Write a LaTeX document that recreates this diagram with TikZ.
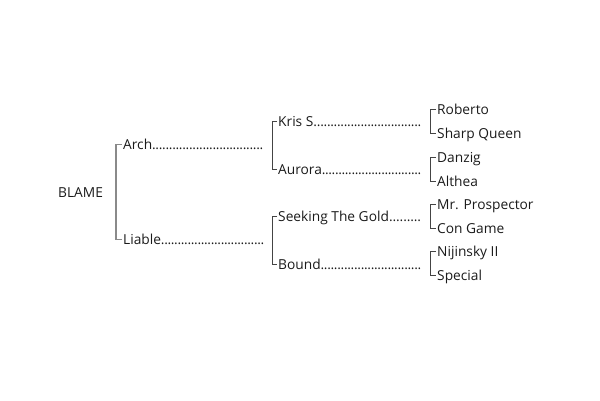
\documentclass[tikz,border=0pt]{standalone}
\usepackage{fontspec}
\setmainfont{Open Sans}
\definecolor{txt}{HTML}{1A1A1A}
\definecolor{brA}{HTML}{8A8A8A}
\definecolor{brB}{HTML}{444444}
\newcommand\dotlead{\xleaders\hbox to 3.3pt{\hss.\hss}\hfill}
\begin{document}
\begin{tikzpicture}[x=1pt,y=-1pt,
  lab/.style={anchor=base west,inner sep=0pt,text height=10pt,text depth=1pt,font=\fontsize{13.75}{15}\selectfont,text=txt},
  brone/.style={draw=brA,line width=1.3pt},
  brtwo/.style={draw=brB,line width=0.8pt}]
\useasboundingbox (0,0) rectangle (600,400);
% root
\node[lab] (blame) at (58,197) {BLAME};
% level 1
\node[lab] (arch) at (123,149) {\makebox[140pt][l]{Arch\dotlead}};
\node[lab] (liable) at (123,244) {\makebox[141pt][l]{Liable\dotlead}};
% level 2
\node[lab] (kris) at (278,126) {\makebox[143pt][l]{Kris S.\dotlead}};
\node[lab] (aurora) at (278,174) {\makebox[143pt][l]{Aurora\dotlead}};
\node[lab] (seek) at (278,221) {\makebox[143pt][l]{Seeking The Gold\dotlead}};
\node[lab] (bound) at (278,269) {\makebox[143pt][l]{Bound\dotlead}};
% level 3
\node[lab] (rob) at (437,114) {Roberto};
\node[lab] (sharp) at (437,138) {Sharp Queen};
\node[lab] (danz) at (437,162) {Danzig};
\node[lab] (alth) at (437,186) {Althea};
\node[lab] (mrp) at (437,209) {Mr. Prospector};
\node[lab] (con) at (437,233) {Con Game};
\node[lab] (nij) at (437,256) {Nijinsky II};
\node[lab] (spec) at (437,280) {Special};
% brackets
\draw[brone] ([xshift=-1pt]arch.west) -- ([xshift=-7pt]arch.west) -- ([xshift=-7pt]liable.west) -- ([xshift=-1pt]liable.west);
\foreach \a/\b in {kris/aurora,seek/bound}{
  \draw[brtwo] ([xshift=-1pt]\a.west) -- ([xshift=-6pt]\a.west) -- ([xshift=-6pt]\b.west) -- ([xshift=-1pt]\b.west);
}
\foreach \a/\b in {rob/sharp,danz/alth,mrp/con,nij/spec}{
  \draw[brtwo] ([xshift=-1pt]\a.west) -- ([xshift=-6.5pt]\a.west) -- ([xshift=-6.5pt]\b.west) -- ([xshift=-1pt]\b.west);
}
\end{tikzpicture}
\end{document}
